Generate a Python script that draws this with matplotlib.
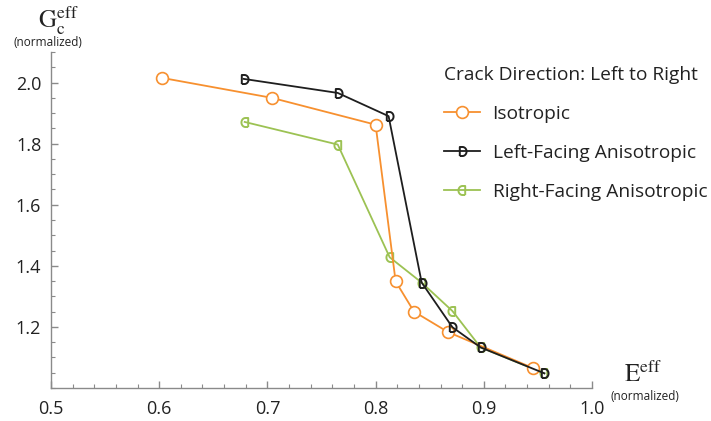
import numpy as np
import matplotlib
matplotlib.use("Agg")
import matplotlib.pyplot as plt
from matplotlib.path import Path
from matplotlib.ticker import MultipleLocator, FixedLocator

# ---- data ----
iso_x = [0.603, 0.704, 0.800, 0.8185, 0.8355, 0.867, 0.9457]
iso_y = [2.015, 1.950, 1.862, 1.349, 1.250, 1.183, 1.065]

left_x = [0.678, 0.765, 0.812, 0.8426, 0.871, 0.897, 0.956]
left_y = [2.012, 1.966, 1.890, 1.345, 1.199, 1.133, 1.048]

right_x = [0.679, 0.765, 0.813, 0.8426, 0.871, 0.897, 0.956]
right_y = [1.871, 1.797, 1.428, 1.345, 1.252, 1.133, 1.048]

labels = ["Isotropic", "Left-Facing Anisotropic", "Right-Facing Anisotropic"]
legend_title = "Crack Direction: Left to Right"
xticks = [0.5, 0.6, 0.7, 0.8, 0.9, 1.0]
yticks = [1.2, 1.4, 1.6, 1.8, 2.0]

# ---- marker shapes ----
def d_marker(flip=False):
    t = np.linspace(-np.pi / 2, np.pi / 2, 30)
    verts = [(-0.6, -1.0)] + [(np.cos(a) * 0.9, np.sin(a)) for a in t] + [(-0.6, 1.0), (-0.6, -1.0)]
    if flip:
        verts = [(-x, y) for x, y in verts]
    codes = [Path.MOVETO] + [Path.LINETO] * (len(verts) - 1)
    return Path(verts, codes)

orange = "#f7902f"
black = "#1e1e1e"
green = "#9cc253"
axis_col = "#8a8a8a"

plt.rcParams["font.family"] = ["Open Sans", "DejaVu Sans"]
plt.rcParams["mathtext.fontset"] = "stix"

fig = plt.figure(figsize=(7.11, 4.21), dpi=100)
ax = fig.add_axes([51 / 711, 1 - 388 / 421, (592 - 51) / 711, (388 - 52) / 421])

ax.plot(iso_x, iso_y, color=orange, lw=1.3, marker="o", ms=8.5, mfc="white",
        mec=orange, mew=1.2, label=labels[0], zorder=3)
ax.plot(left_x, left_y, color=black, lw=1.3, marker=d_marker(), ms=6.5, mfc="none",
        mec=black, mew=1.4, label=labels[1], zorder=4)
ax.plot(right_x, right_y, color=green, lw=1.3, marker=d_marker(flip=True), ms=6.5, mfc="none",
        mec=green, mew=1.4, label=labels[2], zorder=2)

ax.set_xlim(0.5, 1.0)
ax.set_ylim(1.0, 2.1)
ax.xaxis.set_major_locator(FixedLocator(xticks))
ax.yaxis.set_major_locator(FixedLocator(yticks))
ax.xaxis.set_minor_locator(MultipleLocator(0.02))
ax.yaxis.set_minor_locator(MultipleLocator(0.05))
ax.set_xticklabels([f"{v:.1f}" for v in xticks])
ax.set_yticklabels([f"{v:.1f}" for v in yticks])

for s in ["top", "right"]:
    ax.spines[s].set_visible(False)
for s in ["left", "bottom"]:
    ax.spines[s].set_color(axis_col)
    ax.spines[s].set_linewidth(1.0)

ax.tick_params(which="major", direction="in", length=5, width=1, color=axis_col,
               labelsize=13, labelcolor="#222222", pad=9)
ax.tick_params(which="minor", direction="in", length=3, width=0.8, color=axis_col)
ax.tick_params(axis="y", pad=7)

# axis labels
fig.text(58 / 711, 1 - 20 / 421, r"$\mathrm{G}_\mathrm{c}^\mathrm{eff}$", fontsize=18,
         ha="center", va="center", color="#222222")
fig.text(48 / 711, 1 - 42 / 421, "(normalized)", fontsize=8.5, ha="center", va="center",
         color="#222222")
fig.text(643 / 711, 1 - 375 / 421, r"$\mathrm{E}^\mathrm{eff}$", fontsize=18,
         ha="center", va="center", color="#222222")
fig.text(645 / 711, 1 - 397 / 421, "(normalized)", fontsize=8.5, ha="center", va="center",
         color="#222222")

leg = fig.legend(loc="upper left", bbox_to_anchor=(436 / 711, 1 - 58 / 421), frameon=False,
                 title=legend_title, fontsize=13.8, title_fontsize=13.8, labelspacing=1.1,
                 handlelength=1.9, handletextpad=0.65, alignment="left", borderaxespad=0)
leg.get_title().set_color("#222222")
for t in leg.get_texts():
    t.set_color("#222222")

fig.savefig("out.png", dpi=100)
